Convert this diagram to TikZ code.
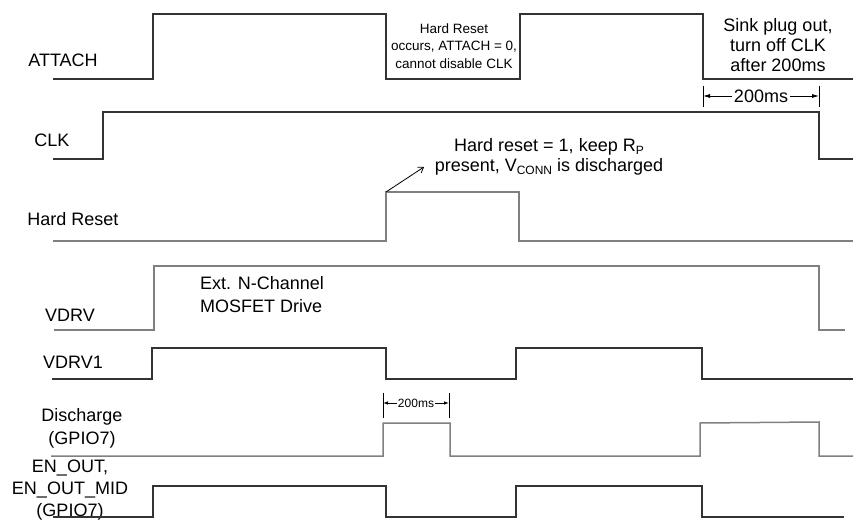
\documentclass[tikz,border=0pt]{standalone}
\usepackage{fontspec}
\setmainfont{Liberation Sans}
\usetikzlibrary{arrows.meta}
\newcommand{\sbs}[1]{\raisebox{-2.5pt}{\fontsize{12}{12}\selectfont #1}}
\begin{document}
\begin{tikzpicture}[x=1pt,y=-1pt,
  wave/.style={line width=1.2pt,draw=black!80,line join=miter},
  gwave/.style={line width=1.5pt,draw=black!50,line join=miter},
  lbl/.style={inner sep=0pt,font=\fontsize{18}{22}\selectfont,align=center},
  note/.style={inner sep=0pt,font=\fontsize{18}{20}\selectfont,align=center},
  small/.style={inner sep=0pt,font=\fontsize{13.5}{17.5}\selectfont,align=center},
  tick/.style={line width=1pt,draw=black},
  dimarr/.style={line width=0.8pt,-{Latex[length=7pt,width=4pt]}},
  sdimarr/.style={line width=0.8pt,-{Latex[length=5pt,width=3.5pt]}}]
\useasboundingbox (0,0) rectangle (859,529);
\fill[white] (0,0) rectangle (859,529);

% signal labels
\node[lbl] (lattach) at (63,60) {ATTACH};
\node[lbl] (lclk) at (52,140) {CLK};
\node[lbl] (lhr) at (73,219) {Hard Reset};
\node[lbl] (lvdrv) at (70,315) {VDRV};
\node[lbl] (lvdrv1) at (73,362) {VDRV1};
\node[lbl,font=\fontsize{18}{23}\selectfont] (ldis) at (82,428.5) {Discharge\\(GPIO7)};
\node[lbl,font=\fontsize{18}{22}\selectfont] (len) at (70,490) {EN\_OUT,\\EN\_OUT\_MID\\(GPIO7)};

% waveforms
\draw[wave] (53,79) -- (153,79) -- (153,14) -- (386,14) -- (386,79) -- (520,79) -- (520,14) -- (703,14) -- (703,79) -- (853,79);
\draw[wave] (53,159) -- (103,159) -- (103,112) -- (819,112) -- (819,159) -- (853,159);
\draw[gwave] (53,241) -- (386,241) -- (386,192) -- (519,192) -- (519,241) -- (853,241);
\draw[gwave] (54,330) -- (154,330) -- (154,266) -- (819,266) -- (819,330) -- (845,330);
\draw[wave] (52,379) -- (152,379) -- (152,348) -- (386,348) -- (386,379) -- (516,379) -- (516,348) -- (702,348) -- (702,379) -- (853,379);
\draw[gwave] (51,456) -- (383,456) -- (383,423) -- (450,423) -- (450,456) -- (700,456) -- (700,423) -- (819,422) -- (819,456) -- (853,456);
\draw[wave] (53,517) -- (153,517) -- (153,486) -- (386,486) -- (386,517) -- (516,517) -- (516,486) -- (702,486) -- (702,517) -- (844,517);

% annotations
\node[small] (hrbox) at (454,46) {Hard Reset\\occurs, ATTACH = 0,\\cannot disable CLK};
\node[note] (sink) at (778,45) {Sink plug out,\\turn off CLK\\after 200ms};
\node[note] (hrtxt1) at (549,147) {Hard reset = 1, keep R\sbs{P}};
\node[note] (hrtxt2) at (549,167) {present, V\sbs{CONN} is discharged};
\node[note,align=left,anchor=west,font=\fontsize{18}{23}\selectfont] (ext) at (200,295) {Ext. N-Channel\\MOSFET Drive};

\coordinate (hrtop) at (386,192);
\coordinate (hrtip) at (424,167);
\draw[line width=0.8pt,-{Straight Barb[length=5pt,width=7pt]}] (hrtop) -- (hrtip);

% top 200ms
\coordinate (t1a) at (703,86); \coordinate (t1b) at (703,107);
\coordinate (t2a) at (819,86); \coordinate (t2b) at (819,107);
\draw[tick] (t1a) -- (t1b);
\draw[tick] (t2a) -- (t2b);
\node[note,inner xsep=2pt] (ms1) at (761,96) {200ms};
\coordinate (a1) at (703,96); \coordinate (a2) at (819,96);
\draw[dimarr] (ms1.west) -- (a1);
\draw[dimarr] (ms1.east) -- (a2);

% bottom 200ms
\coordinate (b1a) at (383,393); \coordinate (b1b) at (383,418);
\coordinate (b2a) at (449,393); \coordinate (b2b) at (449,418);
\draw[tick] (b1a) -- (b1b);
\draw[tick] (b2a) -- (b2b);
\node[inner sep=0pt,inner xsep=1pt,font=\fontsize{12}{14}\selectfont] (ms2) at (416,403) {200ms};
\coordinate (c1) at (383,403); \coordinate (c2) at (449,403);
\draw[sdimarr] (ms2.west) -- (c1);
\draw[sdimarr] (ms2.east) -- (c2);
\end{tikzpicture}
\end{document}
